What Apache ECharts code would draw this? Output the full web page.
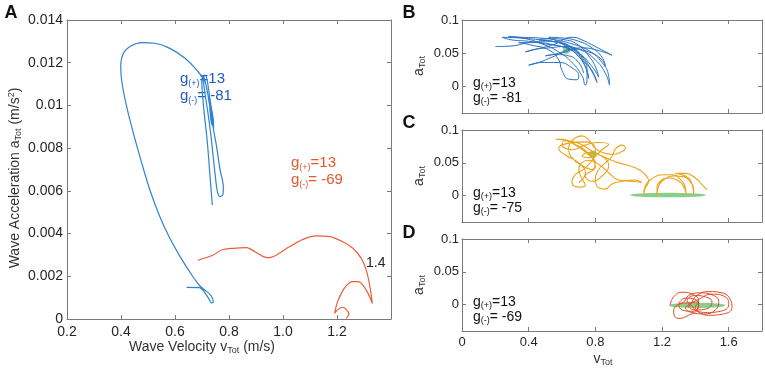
<!DOCTYPE html>
<html>
<head>
<meta charset="utf-8">
<script src="https://cdn.jsdelivr.net/npm/echarts@6/dist/echarts.min.js"></script>
<style>
  html, body { margin: 0; padding: 0; background: #fff; }
  #main { width: 765px; height: 370px; }
</style>
</head>
<body>
<div id="main"></div>
<script>
  // panel A : wave velocity vs wave acceleration
  var blueA = [
    [0.643,0.00148],[0.690,0.00147],[0.723,0.00100],[0.736,0.00074],[0.742,0.00081],[0.732,0.00112],
    [0.707,0.00139],[0.690,0.00158],[0.662,0.00206],[0.619,0.00292],[0.581,0.00378],[0.544,0.00479],
    [0.507,0.00604],[0.477,0.00729],[0.446,0.00869],[0.421,0.00994],[0.404,0.01104],[0.399,0.01181],
    [0.409,0.01244],[0.436,0.01278],[0.477,0.01294],[0.526,0.01291],[0.581,0.01267],[0.637,0.01221],
    [0.680,0.01166],[0.711,0.01111],[0.727,0.01010],[0.741,0.00899],[0.754,0.00807],[0.767,0.00698],
    [0.779,0.00619],[0.777,0.00581],[0.767,0.00573],[0.757,0.00596],[0.748,0.00684],[0.740,0.00777],
    [0.732,0.00871],[0.722,0.00965],[0.711,0.01058],[0.704,0.01128],[0.711,0.01142],[0.719,0.01119],
    [0.730,0.01025],[0.737,0.00969],[0.743,0.00922],[0.737,0.00908],[0.730,0.00969],[0.728,0.01016],
    [0.733,0.00997],[0.741,0.00941],[0.743,0.00885],[0.735,0.00960],[0.712,0.01110],[0.704,0.01138],
    [0.699,0.01119],[0.707,0.00979],[0.719,0.00838],[0.728,0.00698],[0.738,0.00534]
  ];
  var redA = [
    [0.686,0.00276],[0.742,0.00300],[0.773,0.00323],[0.816,0.00331],[0.865,0.00334],[0.896,0.00315],
    [0.927,0.00292],[0.945,0.00287],[0.976,0.00300],[1.025,0.00339],[1.074,0.00373],[1.124,0.00389],
    [1.173,0.00386],[1.222,0.00362],[1.259,0.00331],[1.290,0.00284],[1.308,0.00230],[1.321,0.00159],
    [1.331,0.00073],[1.315,0.00120],[1.296,0.00159],[1.278,0.00175],[1.257,0.00175],[1.234,0.00155],
    [1.216,0.00120],[1.200,0.00073],[1.191,0.00027],[1.204,0.00045],[1.220,0.00055],[1.234,0.00045],
    [1.244,0.00023],[1.234,0.00003]
  ];

  // panels B, C, D : vTot vs aTot
  var trajB = [
    [0.20,0.060],[0.30,0.061],[0.40,0.066],[0.50,0.068],[0.58,0.066],[0.66,0.058],[0.72,0.044],[0.75,0.026],
    [0.75,0.010],[0.74,0.002],[0.72,0.016],[0.66,0.036],[0.58,0.052],[0.48,0.064],[0.38,0.072],[0.28,0.075],
    [0.36,0.074],[0.46,0.073],[0.56,0.070],[0.66,0.064],[0.76,0.054],[0.84,0.036],[0.88,0.016],[0.885,0.002],
    [0.86,0.020],[0.80,0.040],[0.72,0.054],[0.62,0.060],[0.52,0.058],[0.44,0.056],[0.38,0.052],[0.46,0.057],
    [0.56,0.064],[0.62,0.072],[0.66,0.074],[0.72,0.070],[0.80,0.060],[0.90,0.047],[0.82,0.054],[0.72,0.058],
    [0.62,0.052],[0.54,0.044],[0.46,0.036],[0.40,0.032],[0.48,0.036],[0.58,0.036],[0.66,0.028],[0.70,0.016],
    [0.69,0.010],[0.64,0.011],[0.60,0.024],[0.58,0.040],[0.52,0.055],[0.42,0.062],[0.34,0.066],[0.44,0.066],
    [0.56,0.062],[0.66,0.054],[0.72,0.040],[0.78,0.024],[0.81,0.006],[0.78,0.022],[0.72,0.046],[0.64,0.062],
    [0.54,0.068],[0.46,0.070],[0.52,0.072],[0.62,0.070],[0.70,0.062],[0.76,0.046],[0.80,0.030],[0.82,0.014],
    [0.78,0.030],[0.70,0.050],[0.60,0.060],[0.50,0.064],[0.40,0.068],[0.30,0.070],[0.24,0.074],[0.34,0.073],
    [0.44,0.071],[0.54,0.068],[0.64,0.060],[0.70,0.048],[0.74,0.030],[0.76,0.012],[0.74,0.030],[0.68,0.050],
    [0.60,0.064],[0.52,0.074],[0.60,0.073],[0.70,0.068],[0.78,0.058],[0.84,0.044],[0.86,0.030],[0.84,0.040],
    [0.76,0.052],[0.66,0.056],[0.58,0.050],[0.50,0.046],[0.56,0.048],[0.64,0.046],[0.70,0.036],[0.73,0.020]
  ];
  var trajC = [
    [0.70,0.020],[0.74,0.034],[0.70,0.050],[0.62,0.062],[0.58,0.072],[0.64,0.080],[0.74,0.082],[0.80,0.070],
    [0.78,0.058],[0.72,0.060],[0.76,0.066],[0.84,0.060],[0.88,0.046],[0.84,0.030],[0.78,0.022],[0.74,0.030],
    [0.80,0.044],[0.76,0.064],[0.68,0.078],[0.60,0.086],
    [0.56,0.086],[0.62,0.084],[0.70,0.074],[0.76,0.062],[0.80,0.050],[0.78,0.040],[0.72,0.046],[0.66,0.058],
    [0.64,0.072],[0.68,0.088],[0.72,0.091],[0.76,0.085],[0.80,0.072],[0.84,0.066],[0.90,0.063],[0.95,0.066],
    [0.98,0.072],[0.96,0.077],[0.92,0.071],[0.90,0.060],[0.86,0.050],[0.82,0.040],[0.80,0.025],[0.82,0.012],
    [0.86,0.010],[0.90,0.018],[0.96,0.022],[1.04,0.024],[1.08,0.020],[1.02,0.022],[0.94,0.024],[0.88,0.035],
    [0.82,0.048],[0.76,0.054],[0.70,0.040],[0.72,0.026],[0.74,0.016],
    [0.70,0.013],[0.66,0.020],[0.68,0.032],[0.74,0.042],[0.80,0.060],[0.84,0.070],[0.88,0.078],[0.82,0.081],
    [0.74,0.077],[0.66,0.070],[0.60,0.078],[0.62,0.084],[0.70,0.080],[0.78,0.068],[0.86,0.058],[0.94,0.050],
    [1.00,0.046],[1.06,0.040],[1.10,0.032],[1.12,0.022],[1.10,0.012],[1.09,0.002],[1.10,0.015],[1.14,0.026],
    [1.20,0.032],[1.26,0.032],[1.31,0.025],[1.34,0.012],[1.345,0.001],[1.33,0.014],[1.29,0.024],[1.24,0.027],
    [1.19,0.022],[1.17,0.010],[1.17,0.001],[1.18,0.015],[1.22,0.026],[1.27,0.030],[1.33,0.029],[1.37,0.021],
    [1.39,0.010],[1.39,0.002],[1.38,0.018],[1.34,0.030],[1.28,0.034],[1.34,0.034],[1.40,0.027],[1.44,0.017],
    [1.47,0.009]
  ];
  var trajD = [
    [1.25,0.000],[1.27,0.012],[1.32,0.019],[1.38,0.016],[1.42,0.006],[1.41,-0.008],[1.36,-0.016],[1.30,-0.021],
    [1.27,-0.012],[1.28,-0.003],[1.33,0.004],[1.36,0.014],[1.43,0.018],[1.50,0.015],[1.54,0.005],[1.52,-0.008],
    [1.45,-0.014],[1.38,-0.012],[1.34,-0.004],[1.37,0.000],[1.40,0.012],[1.48,0.020],[1.56,0.018],[1.61,0.008],
    [1.62,-0.004],[1.57,-0.014],[1.48,-0.016],[1.41,-0.010],[1.38,-0.002],[1.35,0.006],[1.40,0.014],[1.46,0.012],
    [1.50,0.004],[1.47,-0.006],[1.40,-0.008],[1.36,-0.002],[1.42,0.008],[1.50,0.016],[1.58,0.012],[1.60,0.000],
    [1.55,-0.010],[1.46,-0.012],[1.40,-0.004],[1.42,0.004],[1.30,0.002],[1.34,0.010],[1.40,0.008],[1.42,-0.002],
    [1.38,-0.010],[1.32,-0.008],[1.30,-0.001]
  ];
  // green mean ellipses: [v, a, half-width v, half-height a]
  var greenB = [[0.626, 0.054, 0.022, 0.005]];
  var greenC = [[1.236, 0.001, 0.23, 0.0035], [0.786, 0.0635, 0.022, 0.005]];
  var greenD = [[1.41, -0.001, 0.17, 0.004]];

  var ticksSmallX = [0, 0.4, 0.8, 1.2, 1.6];
  var ticksSmallY = [0, 0.05, 0.1];

  var FONT = '"Liberation Sans", Arial, Helvetica, sans-serif';
  var AXIS_COLOR = '#7a7a7a';
  var TXT = '#262626';

  var grids = [
    { left: 67, top: 20, width: 324, height: 299 },
    { left: 462, top: 20, width: 300, height: 93 },
    { left: 462, top: 130, width: 300, height: 92 },
    { left: 462, top: 239, width: 300, height: 92 }
  ];

  function axisPair(dim, gi, base) {
    var main = Object.assign({
      type: 'value', gridIndex: gi,
      axisLine: { show: true, onZero: false, lineStyle: { color: AXIS_COLOR, width: 1 } },
      axisTick: { show: true, inside: true, length: 4, lineStyle: { color: AXIS_COLOR } },
      splitLine: { show: false }
    }, base);
    main.axisLabel = Object.assign({ color: TXT, fontFamily: FONT }, base.axisLabel || {});
    main.position = dim === 'x' ? 'bottom' : 'left';
    var mirror = Object.assign({}, main);
    mirror.position = dim === 'x' ? 'top' : 'right';
    mirror.axisLabel = { show: false };
    return [main, mirror];
  }

  var xAxes = [], yAxes = [];
  xAxes = xAxes.concat(axisPair('x', 0, {
    min: 0.2, max: 1.4, interval: 0.2,
    axisLabel: { fontSize: 14, margin: 6, showMaxLabel: false, formatter: function (v) { return v.toFixed(1); } }
  }));
  yAxes = yAxes.concat(axisPair('y', 0, {
    min: 0, max: 0.014, interval: 0.002,
    axisLabel: { fontSize: 14, margin: 4, formatter: function (v) { return v === 0 ? '0' : +v.toFixed(3) + ''; } }
  }));
  for (var g = 1; g <= 3; g++) {
    xAxes = xAxes.concat(axisPair('x', g, {
      min: 0, max: 1.8,
      axisTick: { show: true, inside: true, length: 4, customValues: ticksSmallX, lineStyle: { color: AXIS_COLOR } },
      axisLabel: { show: g === 3, fontSize: 13, margin: 5, customValues: ticksSmallX, formatter: function (v) { return v === 0 ? '0' : v.toFixed(1); } }
    }));
    yAxes = yAxes.concat(axisPair('y', g, {
      min: -0.04, max: 0.1,
      axisTick: { show: true, inside: true, length: 4, customValues: ticksSmallY, lineStyle: { color: AXIS_COLOR } },
      axisLabel: { fontSize: 13, margin: 3, customValues: ticksSmallY, formatter: function (v) { return v === 0 ? '0' : +v.toFixed(2) + ''; } }
    }));
  }

  function trajSeries(data, axis, color, width, smooth) {
    return {
      type: 'line', xAxisIndex: axis, yAxisIndex: axis, data: data,
      showSymbol: false, symbol: 'none', smooth: smooth, silent: true,
      lineStyle: { color: color, width: width }
    };
  }

  function ellipseItem(params, api) {
    var c = api.coord([api.value(0), api.value(1)]);
    var e = api.coord([api.value(0) + api.value(2), api.value(1) + api.value(3)]);
    var rx = Math.abs(e[0] - c[0]), ry = Math.abs(c[1] - e[1]);
    return {
      type: 'circle', x: c[0], y: c[1], scaleY: ry / rx,
      shape: { cx: 0, cy: 0, r: rx },
      style: { fill: '#6cc26c', opacity: 0.8 }
    };
  }
  function ellipseSeries(data, axis) {
    return {
      type: 'custom', xAxisIndex: axis, yAxisIndex: axis, data: data, silent: true,
      renderItem: ellipseItem, encode: { x: 0, y: 1 }
    };
  }

  function richText(size, color) {
    return {
      n: { fontSize: size, fontFamily: FONT, fill: color },
      s: { fontSize: Math.round(size * 0.62), fontFamily: FONT, fill: color, padding: [size * 0.55, 0, 0, 0] },
      p: { fontSize: Math.round(size * 0.62), fontFamily: FONT, fill: color, padding: [0, 0, size * 0.55, 0] }
    };
  }
  function txt(x, y, text, size, color, opts) {
    return Object.assign({
      type: 'text', x: x, y: y, silent: true,
      style: {
        text: text, rich: richText(size, color), fill: color,
        fontSize: size, fontFamily: FONT,
        textAlign: (opts && opts.align) || 'left', textVerticalAlign: 'middle'
      }
    }, opts && opts.rot ? { rotation: opts.rot } : {});
  }
  function panelLabel(x, y, t) {
    return { type: 'text', x: x, y: y, silent: true,
      style: { text: t, fontSize: 18, fontWeight: 'bold', fontFamily: FONT, fill: '#111', textAlign: 'center', textVerticalAlign: 'middle' } };
  }

  var BLUE_TXT = '#1f5bbd', RED_TXT = '#e5572d';
  var graphics = [
    panelLabel(11, 13, 'A'), panelLabel(409, 13, 'B'), panelLabel(409, 123, 'C'), panelLabel(409, 233, 'D'),
    txt(202, 347, '{n|Wave Velocity v}{s|Tot}{n| (m/s)}', 14, '#333', { align: 'center' }),
    txt(15, 178, '{n|Wave Acceleration a}{s|Tot}{n| (m/s}{p|2}{n|)}', 14, '#333', { align: 'center', rot: Math.PI / 2 }),
    txt(180, 79, '{n|g}{s|(+)}{n|=13}', 15, BLUE_TXT),
    txt(180, 96, '{n|g}{s|(-)}{n|= -81}', 15, BLUE_TXT),
    txt(291, 163, '{n|g}{s|(+)}{n|=13}', 15, RED_TXT),
    txt(291, 180, '{n|g}{s|(-)}{n|= -69}', 15, RED_TXT),
    txt(366, 263, '{n|1.4}', 14, '#222'),
    txt(419, 66, '{n|a}{s|Tot}', 14, '#333', { align: 'center', rot: Math.PI / 2 }),
    txt(419, 176, '{n|a}{s|Tot}', 14, '#333', { align: 'center', rot: Math.PI / 2 }),
    txt(419, 285, '{n|a}{s|Tot}', 14, '#333', { align: 'center', rot: Math.PI / 2 }),
    txt(603, 359, '{n|v}{s|Tot}', 14, '#333', { align: 'center' }),
    txt(473, 83, '{n|g}{s|(+)}{n|=13}', 14, '#111'),
    txt(473, 98, '{n|g}{s|(-)}{n|= -81}', 14, '#111'),
    txt(473, 193, '{n|g}{s|(+)}{n|=13}', 14, '#111'),
    txt(473, 208, '{n|g}{s|(-)}{n|= -75}', 14, '#111'),
    txt(473, 302, '{n|g}{s|(+)}{n|=13}', 14, '#111'),
    txt(473, 317, '{n|g}{s|(-)}{n|= -69}', 14, '#111')
  ];

  var chart = echarts.init(document.getElementById('main'), null, { renderer: 'canvas' });
  var option = {
    animation: false,
    backgroundColor: '#fff',
    grid: grids,
    xAxis: xAxes,
    yAxis: yAxes,
    series: [
      trajSeries(blueA, 0, '#2f83cf', 1.2, 0.3),
      trajSeries(redA, 0, '#e8603a', 1.2, 0.3),
      ellipseSeries(greenC.slice(0, 1), 4),
      ellipseSeries(greenD, 6),
      trajSeries(trajB, 2, '#2a72c2', 1, 0.5),
      trajSeries(trajC, 4, '#eda31a', 1.1, 0.5),
      trajSeries(trajD, 6, '#e04a26', 1, 0.5),
      ellipseSeries(greenB, 2),
      ellipseSeries(greenC.slice(1), 4)
    ],
    graphic: graphics
  };
  chart.setOption(option);
  window.addEventListener('resize', function () { chart.resize(); });
</script>
</body>
</html>
